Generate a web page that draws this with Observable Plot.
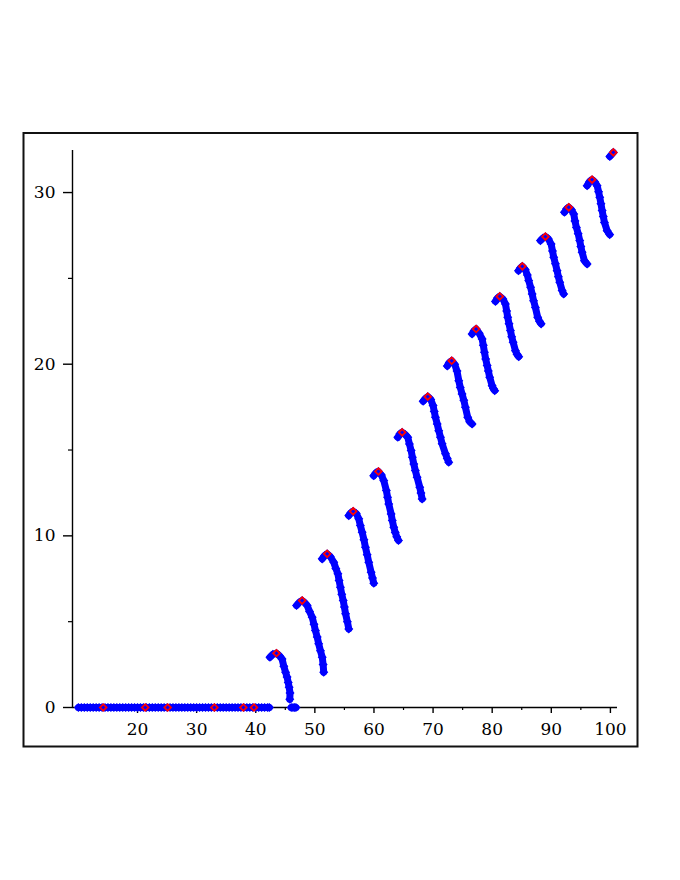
<!DOCTYPE html>
<html><head><meta charset="utf-8">
<script src="https://cdn.jsdelivr.net/npm/d3@7"></script>
<script src="https://cdn.jsdelivr.net/npm/@observablehq/plot@0.6"></script>
<style>body{margin:0;background:#fff} #chart svg{display:block}</style>
</head><body><div id="chart"></div>
<script>
// x ticks and y ticks
const xTicks = [20, 30, 40, 50, 60, 70, 80, 90, 100];
const xMinor = [15, 25, 35, 45, 55, 65, 75, 85, 95];
const yTicks = [0, 10, 20, 30];
const yMinor = [5, 15, 25];

// runs of zero values
const zeroX1 = [10, 10.5, 11, 11.5, 12, 12.5, 13, 13.5, 14, 14.5, 15, 15.5, 16, 16.5, 17, 17.5, 18, 18.5, 19, 19.5,
  20, 20.5, 21, 21.5, 22, 22.5, 23, 23.5, 24, 24.5, 25, 25.5, 26, 26.5, 27, 27.5, 28, 28.5, 29, 29.5,
  30, 30.5, 31, 31.5, 32, 32.5, 33, 33.5, 34, 34.5, 35, 35.5, 36, 36.5, 37, 37.5, 38, 38.5, 39, 39.5,
  40, 40.5, 41, 41.5, 42, 42.3];
const zeroX2 = [46.0, 46.3, 46.55, 46.8];
const redZeroX = [14.2, 21.3, 25.1, 33.0, 37.9, 39.7];

// falling segments [x, y]
const seg1 = [[42.4,2.93],[42.9,3.1],[43.5,3.16],[44.0,3.02],[44.45,2.83],[44.75,2.4],[45.05,2.05],[45.3,1.77],[45.5,1.45],[45.65,1.18],[45.8,0.85],[45.76,0.48]];
const seg2 = [[46.9,5.94],[47.35,6.12],[47.85,6.23],[48.3,6.1],[48.7,5.94],[49.1,5.6],[49.55,5.26],[49.85,4.85],[50.1,4.48],[50.4,4.1],[50.65,3.71],[50.95,3.3],[51.25,2.93],[51.4,2.5],[51.5,2.06]];
const seg3 = [[51.24,8.66],[51.65,8.85],[52.08,8.95],[52.6,8.8],[53.2,8.46],[53.55,8.1],[53.9,7.79],[54.1,7.4],[54.33,7.0],[54.55,6.6],[54.8,6.23],[55.0,5.85],[55.2,5.46],[55.5,5.0],[55.74,4.58]];
const seg4 = [[55.74,11.18],[56.1,11.35],[56.48,11.43],[57.0,11.3],[57.43,10.99],[57.7,10.6],[58.0,10.21],[58.3,9.78],[58.56,9.34],[58.85,8.9],[59.12,8.46],[59.52,7.88],[59.75,7.55],[59.97,7.24]];
const seg5 = [[59.95,13.5],[60.35,13.68],[60.75,13.75],[61.25,13.55],[61.66,13.22],[62.1,12.64],[62.3,12.25],[62.5,11.86],[62.9,11.28],[63.1,10.9],[63.35,10.5],[63.6,10.2],[63.85,9.95],[64.15,9.73]];
const seg6 = [[64.03,15.74],[64.4,15.95],[64.77,16.03],[65.3,15.9],[65.72,15.74],[66.0,15.35],[66.29,14.97],[66.5,14.58],[66.74,14.19],[67.0,13.8],[67.3,13.41],[67.75,12.83],[67.95,12.5],[68.15,12.15]];
const seg7 = [[68.32,17.84],[68.7,18.0],[69.1,18.11],[69.6,17.95],[70.0,17.59],[70.2,17.25],[70.4,16.91],[70.7,16.52],[70.96,16.13],[71.25,15.75],[71.53,15.36],[72.1,14.78],[72.4,14.5],[72.65,14.29]];
const seg8 = [[72.4,19.9],[72.75,20.1],[73.15,20.2],[73.65,20.0],[74.05,19.6],[74.35,19.04],[74.6,18.65],[74.9,18.27],[75.2,17.9],[75.47,17.49],[75.86,16.91],[76.2,16.65],[76.6,16.52]];
const seg9 = [[76.6,21.76],[76.95,21.95],[77.28,22.05],[77.8,21.8],[78.3,21.47],[78.5,21.1],[78.69,20.7],[78.9,20.3],[79.15,19.92],[79.35,19.6],[79.58,19.24],[79.99,18.75],[80.2,18.58],[80.43,18.46]];
const seg10 = [[80.55,23.66],[80.9,23.85],[81.28,23.95],[81.8,23.8],[82.24,23.51],[82.45,23.1],[82.63,22.73],[82.85,22.35],[83.09,21.96],[83.3,21.6],[83.54,21.28],[83.93,20.79],[84.2,20.58],[84.49,20.44]];
const seg11 = [[84.45,25.45],[84.8,25.62],[85.1,25.7],[85.6,25.5],[85.95,25.2],[86.18,24.87],[86.5,24.48],[86.76,24.09],[87.0,23.7],[87.31,23.31],[87.7,22.73],[88.0,22.5],[88.28,22.35]];
const seg12 = [[88.16,27.2],[88.6,27.35],[89.0,27.43],[89.5,27.3],[89.97,27.0],[90.2,26.6],[90.41,26.23],[90.7,25.85],[90.98,25.45],[91.2,25.1],[91.43,24.77],[91.83,24.29],[92.1,24.09]];
const seg13 = [[92.22,28.85],[92.6,29.05],[92.95,29.14],[93.4,29.0],[93.8,28.75],[94.0,28.35],[94.25,27.97],[94.55,27.6],[94.81,27.2],[95.0,26.85],[95.21,26.52],[95.6,26.03],[96.06,25.84]];
const seg14 = [[96.06,30.4],[96.5,30.65],[96.9,30.75],[97.35,30.62],[97.75,30.4],[98.0,30.05],[98.2,29.72],[98.4,29.35],[98.6,28.95],[98.8,28.6],[98.99,28.26],[99.44,27.78],[99.88,27.55]];
const seg15 = [[99.9,32.1],[100.5,32.34]];

// red-marked peaks
const peakX = [43.5,47.85,52.08,56.48,60.75,64.77,69.1,73.15,77.28,81.28,85.1,89.0,92.95,96.9,100.5];
const peakY = [3.16,6.23,8.95,11.43,13.75,16.03,18.11,20.2,22.05,23.95,25.7,27.43,29.14,30.75,32.34];

const segments = [seg1,seg2,seg3,seg4,seg5,seg6,seg7,seg8,seg9,seg10,seg11,seg12,seg13,seg14,seg15];
const pts = [];
zeroX1.forEach(x => pts.push({x, y: 0, s: "z1"}));
zeroX2.forEach(x => pts.push({x, y: 0, s: "z2"}));
segments.forEach((seg, i) => seg.forEach(([x, y]) => pts.push({x, y, s: "s" + i})));
const reds = peakX.map((x, i) => ({x, y: peakY[i]})).concat(redZeroX.map(x => ({x, y: 0})));

const BLUE = "#0000ff";
const font = {fontSize: 17, fontFamily: "DejaVu Serif"};

const svg = Plot.plot({
  width: 680, height: 880,
  marginLeft: 72, marginRight: 63, marginTop: 150, marginBottom: 173,
  style: {fontFamily: "DejaVu Serif", fontSize: "17px", color: "#000", background: "#fff"},
  x: {domain: [9.0, 101.2]},
  y: {domain: [0, 32.45]},
  marks: [
    Plot.ruleX([9.0], {y1: 0, y2: 32.45, stroke: "#000", strokeWidth: 1.4}),
    Plot.ruleY([0], {x1: 9.0, x2: 101.2, stroke: "#000", strokeWidth: 1.4}),
    Plot.axisX(xTicks, {anchor: "bottom", tickSize: 6, tickPadding: 9, label: null, strokeWidth: 1.4, ...font}),
    Plot.axisX(xMinor, {anchor: "bottom", tickSize: 3, tickFormat: () => "", label: null, strokeWidth: 1.2}),
    Plot.axisY(yTicks, {anchor: "left", tickSize: 9, tickPadding: 8, label: null, strokeWidth: 1.4, ...font}),
    Plot.axisY(yMinor, {anchor: "left", tickSize: 4, tickFormat: () => "", label: null, strokeWidth: 1.2}),
    Plot.line(pts, {x: "x", y: "y", z: "s", stroke: BLUE, strokeWidth: 7, strokeLinecap: "round", strokeLinejoin: "round"}),
    Plot.dot(pts, {x: "x", y: "y", symbol: "diamond2", r: 3.2, stroke: BLUE, strokeWidth: 1.4, fill: "none"}),
    Plot.dot(reds, {x: "x", y: "y", symbol: "diamond2", r: 3, stroke: "#ff0000", strokeWidth: 1.8, fill: "none"})
  ]
});
d3.select(svg).append("rect")
  .attr("x", 23.5).attr("y", 133).attr("width", 614).attr("height", 613.5)
  .attr("fill", "none").attr("stroke", "#111").attr("stroke-width", 2);
document.getElementById("chart").appendChild(svg);
</script>
</body></html>
